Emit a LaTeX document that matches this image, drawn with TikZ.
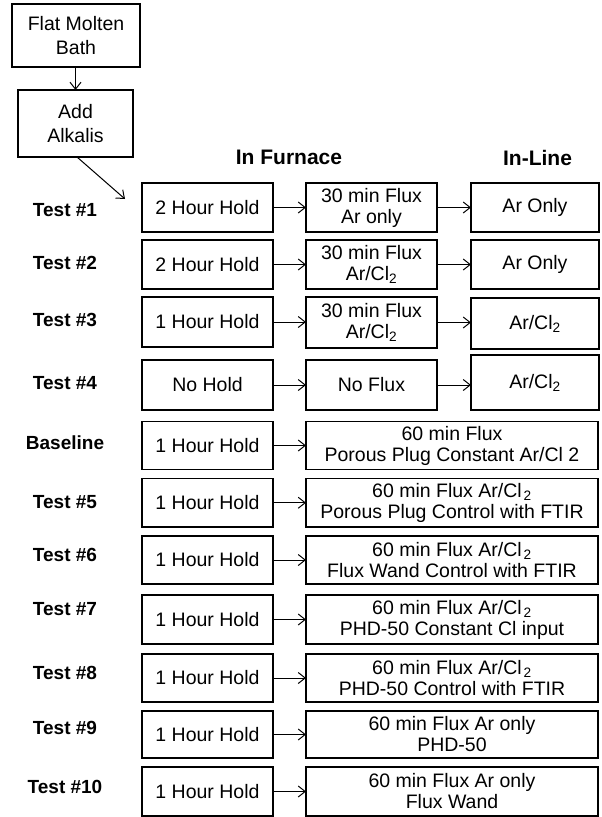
\documentclass[tikz,border=0pt]{standalone}
\usepackage{fontspec}
\setmainfont{Liberation Sans}
\usetikzlibrary{arrows.meta}
\newcommand{\cltwo}{Ar/Cl\textsubscript{2}}
\newcommand{\clgap}{Ar/Cl\kern2pt\textsubscript{2}}
\begin{document}
\begin{tikzpicture}[x=1pt,y=-1pt,
  box/.style={draw, line width=1.1pt, inner sep=0pt, outer sep=0pt, align=center,
    anchor=north west, font=\fontsize{19.5}{21}\selectfont},
  lbl/.style={font=\bfseries\fontsize{19}{21}\selectfont, inner sep=0pt},
  hdr/.style={font=\bfseries\fontsize{21}{23}\selectfont, inner sep=0pt},
  arr/.style={line width=1pt, -{Straight Barb[length=7pt,width=11pt,line width=1pt]}}]
\useasboundingbox (0,0) rectangle (602,817);

% top boxes
\node[box, minimum width=128pt, minimum height=63pt, font=\fontsize{19.5}{24}\selectfont] (fm) at (12,4) {Flat Molten\\Bath};
\node[box, minimum width=115pt, minimum height=67pt, font=\fontsize{19.5}{23.5}\selectfont] (aa) at (18,90) {Add\\Alkalis};
\draw[arr] (aa.north |- fm.south) -- (aa.north);
\coordinate (tip) at (125,199);
\draw[arr] ([xshift=1.5pt]aa.south) -- (tip);

% headers
\node[hdr] (hf) at (289,157.5) {In Furnace};
\node[hdr] (hl) at (537.5,157.5) {In-Line};

% labels
\node[lbl] (t1) at (65,210) {Test \#1};
\node[lbl] (t2) at (65,263) {Test \#2};
\node[lbl] (t3) at (65,320) {Test \#3};
\node[lbl] (t4) at (65,383) {Test \#4};
\node[lbl] (tb) at (65,443) {Baseline};
\node[lbl] (t5) at (65,502) {Test \#5};
\node[lbl] (t6) at (65,555) {Test \#6};
\node[lbl] (t7) at (65,609) {Test \#7};
\node[lbl] (t8) at (65,673) {Test \#8};
\node[lbl] (t9) at (65,728) {Test \#9};
\node[lbl] (t10) at (65,787) {Test \#10};

% row 1
\node[box, minimum width=131pt, minimum height=49pt] (l1) at (142,183) {2 Hour Hold};
\node[box, minimum width=131pt, minimum height=49pt] (m1) at (306,183) {30 min Flux\\Ar only};
\node[box, minimum width=128pt, minimum height=49pt] (r1) at (471,183) {Ar Only};
% row 2
\node[box, minimum width=131pt, minimum height=49pt] (l2) at (142,240) {2 Hour Hold};
\node[box, minimum width=131pt, minimum height=49pt] (m2) at (306,240) {30 min Flux\\\cltwo};
\node[box, minimum width=128pt, minimum height=49pt] (r2) at (471,240) {Ar Only};
% row 3
\node[box, minimum width=131pt, minimum height=50pt] (l3) at (142,297) {1 Hour Hold};
\node[box, minimum width=131pt, minimum height=51pt] (m3) at (306,297) {30 min Flux\\\cltwo};
\node[box, minimum width=128pt, minimum height=51pt] (r3) at (471,298) {\cltwo};
% row 4
\node[box, minimum width=131pt, minimum height=50pt] (l4) at (142,360) {No Hold};
\node[box, minimum width=131pt, minimum height=50pt] (m4) at (306,360) {No Flux};
\node[box, minimum width=128pt, minimum height=55pt] (r4) at (471,355) {\cltwo};
% baseline
\node[box, minimum width=131pt, minimum height=48pt] (lb) at (142,421.5) {1 Hour Hold};
\node[box, minimum width=292pt, minimum height=48pt] (wb) at (306,421.5) {60 min Flux\\Porous Plug Constant Ar/Cl 2};
% row 5
\node[box, minimum width=131pt, minimum height=48.5pt] (l5) at (142,478.5) {1 Hour Hold};
\node[box, minimum width=292pt, minimum height=48.5pt] (w5) at (306,478.5) {60 min Flux \clgap\\Porous Plug Control with FTIR};
% row 6
\node[box, minimum width=131pt, minimum height=48pt] (l6) at (142,536) {1 Hour Hold};
\node[box, minimum width=292pt, minimum height=48pt] (w6) at (306,536) {60 min Flux \clgap\\Flux Wand Control with FTIR};
% row 7
\node[box, minimum width=131pt, minimum height=49pt] (l7) at (142,595) {1 Hour Hold};
\node[box, minimum width=292pt, minimum height=49pt] (w7) at (306,595) {60 min Flux \clgap\\PHD-50 Constant Cl input};
% row 8
\node[box, minimum width=131pt, minimum height=48pt] (l8) at (142,654) {1 Hour Hold};
\node[box, minimum width=292pt, minimum height=48pt] (w8) at (306,654) {60 min Flux \clgap\\PHD-50 Control with FTIR};
% row 9
\node[box, minimum width=131pt, minimum height=47pt] (l9) at (142,711) {1 Hour Hold};
\node[box, minimum width=292pt, minimum height=47pt] (w9) at (306,711) {60 min Flux Ar only\\PHD-50};
% row 10
\node[box, minimum width=131pt, minimum height=49pt] (l10) at (142,767) {1 Hour Hold};
\node[box, minimum width=292pt, minimum height=49pt] (w10) at (306,767) {60 min Flux Ar only\\Flux Wand};

% arrows
\foreach \a/\b in {l1/m1,m1/r1,l2/m2,m2/r2,l3/m3,m3/r3,l4/m4,m4/r4,
                   lb/wb,l5/w5,l6/w6,l7/w7,l8/w8,l9/w9,l10/w10}
  \draw[arr] (\a.east) -- (\a.east -| \b.west);
\end{tikzpicture}
\end{document}
